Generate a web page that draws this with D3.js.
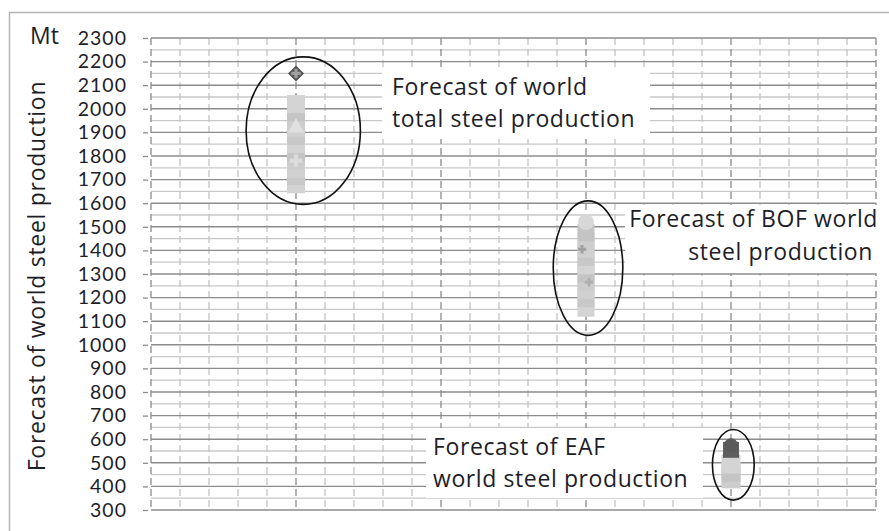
<!DOCTYPE html>
<html>
<head>
<meta charset="utf-8">
<script src="https://cdn.jsdelivr.net/npm/d3@7/dist/d3.min.js"></script>
<style>
  html, body { margin: 0; padding: 0; background: #fff; }
  svg { display: block; font-family: "Open Sans", Lato, sans-serif; }
</style>
</head>
<body>
<svg id="chart" width="889" height="531"></svg>
<script>
// Forecast groups and their positions on the (unlabelled) horizontal axis
const groupNames = ["Total", "BOF", "EAF"];
const groupSlots = [5, 15, 20];

// Forecast values, Mt
const totalForecasts = [2150, 2075, 2020, 1985, 1950, 1920, 1885, 1850, 1815, 1780, 1745, 1715, 1680];
const bofForecasts   = [1520, 1475, 1440, 1405, 1370, 1335, 1300, 1265, 1230, 1195, 1155];
const eafForecasts   = [575, 555, 495, 460, 432];

// Value ranges enclosed by the ellipses, Mt
const totalRange = [1595, 2220];
const bofRange   = [1040, 1610];
const eafRange   = [342, 641];

// Axis ticks
const yTicks = d3.range(300, 2301, 100);
const yMinor = d3.range(350, 2300, 100);
const xTicks = d3.range(0, 26, 1);

// Callout texts
const totalLabel = ["Forecast of world", "total steel production"];
const bofLabel   = ["Forecast of BOF world", "steel production"];
const eafLabel   = ["Forecast of EAF", "world steel production"];

const svg = d3.select("#chart");
const plot = { left: 151, right: 876, top: 38, bottom: 510 };

const x = d3.scaleLinear().domain([0, 25]).range([plot.left, plot.right]);
const y = d3.scaleLinear().domain([300, 2300]).range([plot.bottom, plot.top]);

const textColor = "#1e1e28";

// outer chart border
svg.append("rect")
  .attr("x", 9.5).attr("y", 12.5).attr("width", 920).attr("height", 560)
  .attr("fill", "#fff").attr("stroke", "#b4b4b4").attr("stroke-width", 1.5);

// grid
const grid = svg.append("g");
grid.selectAll("line.minor-h").data(yMinor).join("line")
  .attr("x1", plot.left).attr("x2", plot.right)
  .attr("y1", d => y(d)).attr("y2", d => y(d))
  .attr("stroke", "#c8c8c8").attr("stroke-width", 1.3);
grid.selectAll("line.v").data(xTicks).join("line")
  .attr("x1", d => x(d)).attr("x2", d => x(d))
  .attr("y1", plot.top).attr("y2", plot.bottom)
  .attr("stroke", d => d % 5 === 0 ? "#8a8a8a" : "#c4c4c4")
  .attr("stroke-width", 1.3)
  .attr("stroke-dasharray", "7,4");
grid.selectAll("line.major-h").data(yTicks).join("line")
  .attr("x1", plot.left).attr("x2", plot.right)
  .attr("y1", d => y(d)).attr("y2", d => y(d))
  .attr("stroke", "#8c8c8c").attr("stroke-width", 1.4);

// y axis: outside tick marks and labels
const yAxis = d3.axisLeft(y).tickValues(yTicks).tickSize(5).tickPadding(16).tickFormat(d3.format("d"));
const yg = svg.append("g").attr("transform", `translate(${plot.left - 3},0)`).call(yAxis);
yg.select(".domain").remove();
yg.selectAll(".tick line").attr("stroke", "#8c8c8c").attr("stroke-width", 1.3);
yg.selectAll(".tick text")
  .attr("fill", textColor)
  .style("font-family", "Lato, 'Open Sans', sans-serif")
  .style("font-size", "19.5px")
  .style("letter-spacing", "1px");

// unit label and axis title
svg.append("text").attr("x", 30).attr("y", 44)
  .attr("fill", textColor).style("font-size", "23px").text("Mt");
svg.append("text")
  .attr("transform", "translate(45,276) rotate(-90)")
  .attr("text-anchor", "middle")
  .attr("fill", textColor).style("font-size", "23px")
  .style("letter-spacing", "0.7px")
  .text("Forecast of world steel production");

// markers
const markerShape = {
  square: d3.symbol().type(d3.symbolSquare),
  triangle: d3.symbol().type(d3.symbolTriangle),
  circle: d3.symbol().type(d3.symbolCircle),
  times: d3.symbol().type(d3.symbolTimes),
  cross: d3.symbol().type(d3.symbolCross),
  star: d3.symbol().type(d3.symbolStar)
};

function drawMarkers(values, slot, styleFor) {
  const g = svg.append("g");
  const items = values.map((v, i) => ({ v, i, s: styleFor(i) }));
  // draw bottom-most first so the upper markers sit on top
  items.slice().reverse().forEach(d => {
    const shape = markerShape[d.s.type].size(d.s.size)();
    g.append("path")
      .attr("d", shape)
      .attr("transform", `translate(${x(slot)},${y(d.v)}) rotate(${d.s.rotate || 0})`)
      .attr("fill", d.s.fill)
      .attr("stroke", d.s.stroke || "none")
      .attr("stroke-width", d.s.strokeWidth || 0);
  });
  return g;
}

const lightShades = ["#d0d0d0", "#c8c8c8", "#d4d4d4", "#c4c4c4", "#cdcdcd"];

drawMarkers(totalForecasts, groupSlots[0], i => {
  if (i === 0) return { type: "square", size: 128, rotate: 45, fill: "#555555" };
  if (i === 1) return { type: "times", size: 80, fill: "#b4b4b4" };
  return { type: "square", size: 324, fill: lightShades[i % lightShades.length] };
});
// light accents over the total column
svg.append("path").attr("d", markerShape.cross.size(50)())
  .attr("transform", `translate(${x(groupSlots[0])},${y(totalForecasts[0])})`)
  .attr("fill", "#a0a0a0");
svg.append("path").attr("d", markerShape.triangle.size(120)())
  .attr("transform", `translate(${x(groupSlots[0])},${y(totalForecasts[5])})`)
  .attr("fill", "#e0e0e0");
svg.append("path").attr("d", markerShape.cross.size(90)())
  .attr("transform", `translate(${x(groupSlots[0])},${y(totalForecasts[9])})`)
  .attr("fill", "#dcdcdc");

drawMarkers(bofForecasts, groupSlots[1], i => {
  if (i === 0) return { type: "circle", size: 200, fill: "#d8d8d8" };
  return { type: "square", size: 289, fill: lightShades[(i + 2) % lightShades.length] };
});
svg.append("path").attr("d", markerShape.cross.size(40)())
  .attr("transform", `translate(${x(groupSlots[1]) - 4},${y(bofForecasts[3])})`)
  .attr("fill", "#a0a0a0");
svg.append("path").attr("d", markerShape.cross.size(40)())
  .attr("transform", `translate(${x(groupSlots[1]) + 3},${y(bofForecasts[7])})`)
  .attr("fill", "#b0b0b0");

drawMarkers(eafForecasts, groupSlots[2], i => {
  if (i === 0) return { type: "circle", size: 150, fill: "#5a5a5a" };
  if (i === 1) return { type: "square", size: 256, fill: "#5e5e5e" };
  return { type: "square", size: 361, fill: lightShades[i % lightShades.length] };
});

// ellipses around each forecast group
const ellipses = [
  { range: totalRange, cx: 5.25, rx: 1.97 },
  { range: bofRange,   cx: 15.07, rx: 1.2 },
  { range: eafRange,   cx: 20.08, rx: 0.72 }
];
svg.append("g").selectAll("ellipse").data(ellipses).join("ellipse")
  .attr("cx", d => x(d.cx))
  .attr("cy", d => (y(d.range[0]) + y(d.range[1])) / 2)
  .attr("rx", d => x(d.cx + d.rx) - x(d.cx))
  .attr("ry", d => (y(d.range[0]) - y(d.range[1])) / 2)
  .attr("fill", "none").attr("stroke", "#111").attr("stroke-width", 1.6);

// callout boxes
const callouts = [
  { lines: totalLabel, box: [382, 67, 268, 72], anchor: "start", tx: [392, 392], ty: [95, 127] },
  { lines: bofLabel,   box: [625, 205, 257, 68], anchor: "end",   tx: [878, 873], ty: [227, 260] },
  { lines: eafLabel,   box: [426, 428, 277, 70], anchor: "start", tx: [433, 433], ty: [455, 487] }
];
callouts.forEach(c => {
  const g = svg.append("g");
  g.append("rect")
    .attr("x", c.box[0]).attr("y", c.box[1]).attr("width", c.box[2]).attr("height", c.box[3])
    .attr("fill", "#fff");
  c.lines.forEach((t, i) => {
    g.append("text")
      .attr("x", c.tx[i]).attr("y", c.ty[i])
      .attr("text-anchor", c.anchor)
      .attr("fill", textColor).style("font-size", "23px")
      .style("letter-spacing", "0.6px")
      .text(t);
  });
});
</script>
</body>
</html>
